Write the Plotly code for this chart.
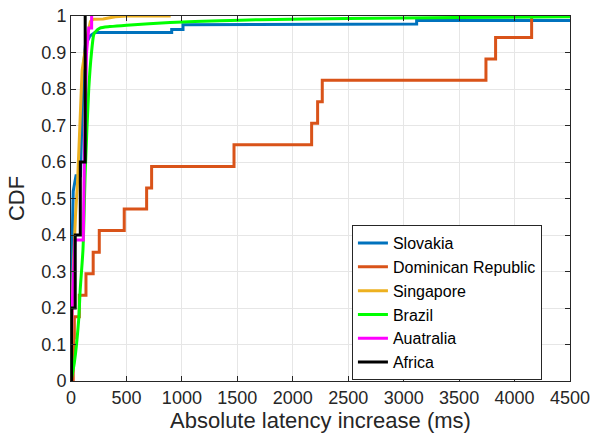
import plotly.graph_objects as go

# ---- data ----
series_names = ["Slovakia", "Dominican Republic", "Singapore", "Brazil", "Auatralia", "Africa"]
series_colors = ["#0072BD", "#D95319", "#EDB120", "#00FF00", "#FF00FF", "#000000"]

slovakia_x = [0, 5, 12, 20, 35, 45, 85, 95, 110, 130, 170, 216, 908, 908, 1010, 1010, 3117, 3117, 4500]
slovakia_y = [0, 0.2, 0.4, 0.52, 0.55, 0.562, 0.562, 0.7, 0.85, 0.92, 0.945, 0.955, 0.955, 0.963, 0.963, 0.976, 0.978, 0.988, 0.988]

dominican_x = [0, 20, 25, 30, 75, 135, 200, 255, 480, 682, 727, 1470, 2170, 2224, 2266, 3742, 3829, 4154]
dominican_y = [0, 0.059, 0.118, 0.176, 0.235, 0.294, 0.353, 0.412, 0.471, 0.529, 0.588, 0.647, 0.706, 0.765, 0.824, 0.882, 0.941, 1.0]

singapore_x = [0, 20, 40, 60, 100, 150, 175, 200, 290, 400, 500, 899]
singapore_y = [0, 0.3, 0.45, 0.55, 0.85, 0.95, 0.985, 0.991, 0.992, 0.998, 1.0, 1.0]

brazil_x = [0, 30, 69, 83, 108, 129, 160, 185, 204, 216, 261, 350, 502, 893, 1343, 1704, 2500, 3500, 4500]
brazil_y = [0, 0.05, 0.167, 0.25, 0.36, 0.578, 0.8, 0.9, 0.948, 0.955, 0.967, 0.971, 0.975, 0.982, 0.987, 0.99, 0.993, 0.996, 0.998]

australia_x = [0, 10, 36, 111, 120, 140, 160, 186, 186]
australia_y = [0, 0.2, 0.386, 0.386, 0.6, 0.9, 0.967, 0.967, 1.0]

africa_x = [0, 5, 38, 84, 128]
africa_y = [0, 0.2, 0.4, 0.6, 1.0]

x_ticks = [0, 500, 1000, 1500, 2000, 2500, 3000, 3500, 4000, 4500]
y_ticks = [0, 0.1, 0.2, 0.3, 0.4, 0.5, 0.6, 0.7, 0.8, 0.9, 1]

# ---- figure ----
fig = go.Figure()
traces = [
    (slovakia_x, slovakia_y, "linear"),
    (dominican_x, dominican_y, "hv"),
    (singapore_x, singapore_y, "linear"),
    (brazil_x, brazil_y, "spline"),
    (australia_x, australia_y, "linear"),
    (africa_x, africa_y, "hv"),
]
for (xs, ys, shape), name, color in zip(traces, series_names, series_colors):
    fig.add_trace(go.Scatter(
        x=xs, y=ys, mode="lines", name=name,
        line=dict(color=color, width=3, shape=shape, smoothing=0.6 if shape == "spline" else None),
    ))

font_family = "Liberation Sans, Arial, Helvetica, sans-serif"
axis_common = dict(
    showgrid=True, gridcolor="#e6e6e6", gridwidth=1,
    showline=True, linecolor="#262626", linewidth=1, mirror="ticks",
    ticks="inside", ticklen=5, tickcolor="#262626",
    zeroline=False, automargin=False,
    tickfont=dict(family=font_family, size=18, color="#262626"),
)

fig.update_layout(
    width=591, height=440,
    margin=dict(l=71, r=21, t=16, b=59, autoexpand=False),
    paper_bgcolor="white", plot_bgcolor="white",
    font=dict(family=font_family, color="#262626"),
    xaxis=dict(range=[0, 4500], tickvals=x_ticks,
               title=dict(text="Absolute latency increase (ms)", font=dict(size=22, color="#262626"), standoff=2),
               **axis_common),
    yaxis=dict(range=[0, 1], tickvals=y_ticks, ticktext=[("%g" % v) for v in y_ticks],
               title=dict(text="CDF", font=dict(size=22, color="#262626"), standoff=10),
               **axis_common),
    legend=dict(
        x=0.563, y=0.427, xanchor="left", yanchor="top",
        bgcolor="white", bordercolor="#262626", borderwidth=1,
        font=dict(family=font_family, size=16, color="#000000"),
        itemwidth=30, tracegroupgap=0,
    ),
    showlegend=True,
)

fig.write_html("out.html")
